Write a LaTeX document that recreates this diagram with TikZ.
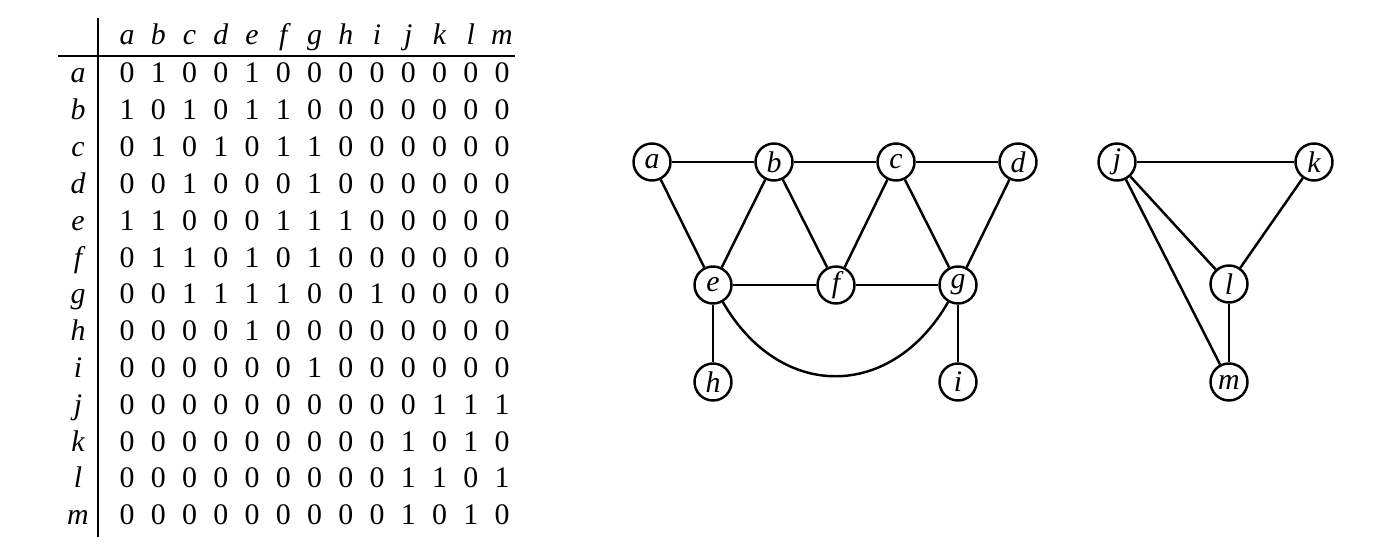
\documentclass[tikz,border=0pt]{standalone}
\usepackage{fontspec}
\setmainfont{Liberation Serif}
\begin{document}
\begin{tikzpicture}[
        x=0.02cm, y=-0.02cm,
        cell/.style={anchor=base, inner sep=0pt, font=\fontsize{17}{20}\selectfont},
        lab/.style={cell, font=\fontsize{17}{20}\selectfont\itshape},
        vertex/.style={circle, draw, line width=1.4pt, minimum size=0.74cm, inner sep=0pt, font=\fontsize{17}{20}\selectfont\itshape},
        edge/.style={line width=1.4pt}
      ]
      \useasboundingbox (0,0) rectangle (1373,554);

      % Adjacency matrix: header and rules
      \foreach \l [count=\c] in {a,b,c,d,e,f,g,h,i,j,k,l,m}
        \node[lab] (col-\l) at (127+31.25*\c-31.25,45) {\l};
      \coordinate (rule-top) at (98,18);
      \coordinate (rule-bot) at (98,537);
      \coordinate (rule-left) at (58,56);
      \coordinate (rule-right) at (515,56);
      \draw[edge] (rule-top) -- (rule-bot);
      \draw[edge] (rule-left) -- (rule-right);

      % Adjacency matrix: rows
      \foreach \l/\bits [count=\r] in {
          a/{0,1,0,0,1,0,0,0,0,0,0,0,0},
          b/{1,0,1,0,1,1,0,0,0,0,0,0,0},
          c/{0,1,0,1,0,1,1,0,0,0,0,0,0},
          d/{0,0,1,0,0,0,1,0,0,0,0,0,0},
          e/{1,1,0,0,0,1,1,1,0,0,0,0,0},
          f/{0,1,1,0,1,0,1,0,0,0,0,0,0},
          g/{0,0,1,1,1,1,0,0,1,0,0,0,0},
          h/{0,0,0,0,1,0,0,0,0,0,0,0,0},
          i/{0,0,0,0,0,0,1,0,0,0,0,0,0},
          j/{0,0,0,0,0,0,0,0,0,0,1,1,1},
          k/{0,0,0,0,0,0,0,0,0,1,0,1,0},
          l/{0,0,0,0,0,0,0,0,0,1,1,0,1},
          m/{0,0,0,0,0,0,0,0,0,1,0,1,0}} {
        \node[lab] (row-\l) at (78,83+36.8*\r-36.8) {\l};
        \foreach \v [count=\c] in \bits
          \node[cell] (\l-\c) at (127+31.25*\c-31.25,83+36.8*\r-36.8) {\v};
      }

      % Graph with vertices a to i
      \node[vertex] (a) at (652,162) {a};
      \node[vertex] (b) at (774,162) {b};
      \node[vertex] (c) at (896,162) {c};
      \node[vertex] (d) at (1018,162) {d};
      \node[vertex] (e) at (713,285) {e};
      \node[vertex] (f) at (836,285) {f};
      \node[vertex] (g) at (958,285) {g};
      \node[vertex] (h) at (713,382) {h};
      \node[vertex] (i) at (958,382) {i};

      \draw[edge] (a) -- (b);
      \draw[edge] (b) -- (c);
      \draw[edge] (c) -- (d);
      \draw[edge] (a) -- (e);
      \draw[edge] (b) -- (e);
      \draw[edge] (b) -- (f);
      \draw[edge] (c) -- (f);
      \draw[edge] (c) -- (g);
      \draw[edge] (d) -- (g);
      \draw[edge] (e) -- (f);
      \draw[edge] (f) -- (g);
      \draw[edge] (e) -- (h);
      \draw[edge] (g) -- (i);
      \draw[edge] (e) to[out=-60, in=-120, looseness=1.3] (g);

      % Graph with vertices j to m
      \node[vertex] (j) at (1117,162) {j};
      \node[vertex] (k) at (1314,162) {k};
      \node[vertex] (l) at (1229,284) {l};
      \node[vertex] (m) at (1229,382) {m};

      \draw[edge] (j) -- (k);
      \draw[edge] (j) -- (l);
      \draw[edge] (j) -- (m);
      \draw[edge] (k) -- (l);
      \draw[edge] (l) -- (m);
    \end{tikzpicture}
\end{document}
